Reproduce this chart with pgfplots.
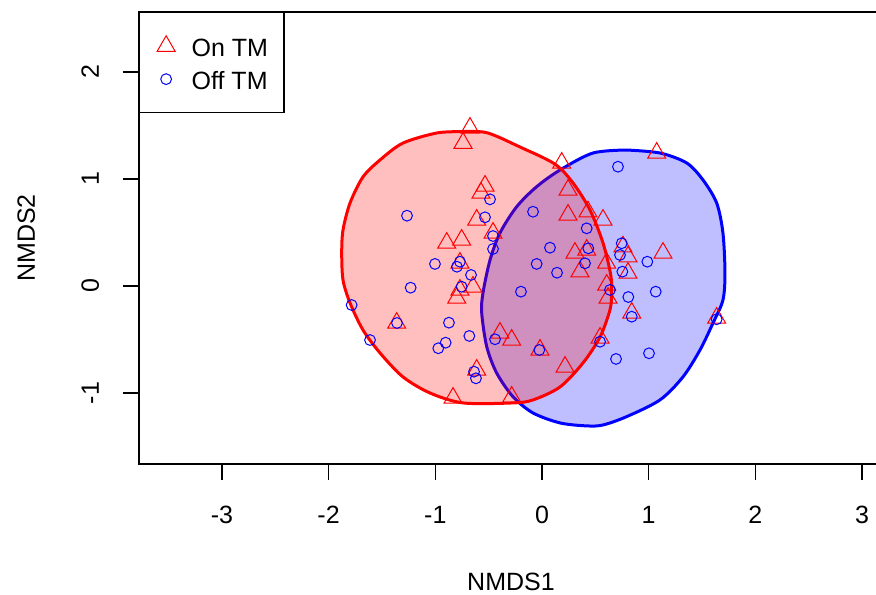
\documentclass[border=0pt]{standalone}
\usepackage{fontspec}
\setmainfont{Liberation Sans}
\usepackage{pgfplots}
\pgfplotsset{compat=1.18}

\definecolor{rred}{RGB}{255,0,0}
\definecolor{rblue}{RGB}{0,0,255}

\pgfplotsset{
  markleg/.style={legend image code/.code={\path (0pt,0pt) (17.5pt,0pt); \draw[##1] plot coordinates {(5pt,0pt)};}},
}

\begin{document}
\fontsize{12.5}{15}\selectfont
\begin{tikzpicture}
\begin{axis}[
  scale only axis,
  width=372pt, height=226pt,
  xmin=-3.777, xmax=3.196, ymin=-1.664, ymax=2.561,
  axis line style={line width=0.65pt},
  tick style={line width=0.65pt, black},
  tick align=outside, major tick length=8pt,
  xtick pos=lower, ytick pos=left,
  xtick={-3,-2,-1,0,1,2,3}, xticklabels={-3,-2,-1,0,1,2,3},
  ytick={-1,0,1,2}, yticklabels={-1,0,1,2},
  xticklabel style={anchor=base, yshift=-21.5pt},
  yticklabel style={xshift=-12pt, rotate=90, anchor=base},
  xlabel={NMDS1}, ylabel={NMDS2},
  every axis x label/.style={at={(axis description cs:0.5,0)}, anchor=base, yshift=-63pt},
  every axis y label/.style={at={(axis description cs:0,0.5)}, xshift=-52pt, rotate=90, anchor=base},
  legend style={at={(rel axis cs:0,1)}, anchor=north west, draw=black, line width=0.65pt,
    fill=white, inner xsep=8pt, inner ysep=11.5pt, row sep=6pt,
    nodes={inner sep=0pt, text height=10.5pt, text depth=0pt},
    font=\fontsize{12.5}{15}\selectfont},
  legend cell align=left,
]
% On TM
\addplot[only marks, mark=triangle, mark size=5.2pt, color=rred, line width=0.5pt, markleg]
coordinates {
(-0.675,1.477) (-0.740,1.336) (-0.534,0.935) (-0.572,0.869) (-0.612,0.617)
(-0.459,0.495) (-0.893,0.402) (-0.753,0.430) (-0.769,0.215) (-0.647,-0.009)
(-0.769,-0.037) (-0.799,-0.112) (-1.362,-0.346) (-0.394,-0.439) (-0.284,-0.505)
(-0.019,-0.598) (0.216,-0.757) (-0.612,-0.785) (-0.834,-1.047) (-0.284,-1.037)
(0.544,-0.486) (0.606,0.009) (0.619,-0.112) (0.841,-0.252) (1.637,-0.299)
(0.185,1.150) (1.075,1.243) (0.244,0.897) (0.244,0.664) (0.431,0.694)
(0.572,0.617) (0.309,0.308) (0.419,0.336) (0.356,0.134) (0.606,0.215)
(0.806,0.274) (0.759,0.367) (0.806,0.121) (1.134,0.308)
};
\addlegendentry{On TM}
% Off TM
\addplot[only marks, mark=o, mark size=2.7pt, color=rblue, line width=0.5pt, markleg]
coordinates {
(-0.487,0.810) (-1.265,0.657) (-0.534,0.642) (-0.459,0.467) (-0.459,0.346)
(-1.003,0.206) (-0.797,0.180) (-0.769,0.227) (-0.665,0.103) (-1.231,-0.016)
(-0.753,-0.007) (-0.197,-0.053) (-0.084,0.694) (0.075,0.358) (-0.050,0.206)
(0.141,0.124) (0.419,0.539) (0.434,0.352) (0.403,0.212) (0.712,1.115)
(0.637,-0.037) (-1.784,-0.178) (-1.612,-0.505) (-0.872,-0.343) (-0.681,-0.467)
(-0.972,-0.582) (-0.903,-0.530) (-0.440,-0.498) (-0.637,-0.801) (-0.619,-0.863)
(-0.025,-0.598) (0.694,-0.682) (0.747,0.399) (0.731,0.290) (0.753,0.134)
(0.987,0.227) (1.066,-0.053) (0.809,-0.103) (0.841,-0.287) (1.637,-0.311)
(1.003,-0.629) (0.544,-0.521) (-1.359,-0.346)
};
\addlegendentry{Off TM}
% ellipse Off TM
\addplot[draw=rblue, line width=1.5pt, fill=rblue, fill opacity=0.25, smooth, forget plot]
coordinates {
(0.794,1.271) (0.478,1.243) (0.169,1.084) (-0.050,0.928) (-0.237,0.741)
(-0.394,0.495) (-0.487,0.243) (-0.553,-0.065) (-0.565,-0.252) (-0.518,-0.567)
(-0.425,-0.813) (-0.272,-1.035) (-0.084,-1.187) (0.169,-1.280) (0.422,-1.308)
(0.572,-1.299) (0.794,-1.221) (1.106,-1.065) (1.321,-0.850) (1.481,-0.598)
(1.603,-0.346) (1.696,-0.131) (1.715,0.121) (1.696,0.495) (1.637,0.776)
(1.509,0.991) (1.356,1.150) (1.106,1.243) (0.794,1.271)
};
% ellipse On TM
\addplot[draw=rred, line width=1.5pt, fill=rred, fill opacity=0.25, smooth, forget plot]
coordinates {
(-0.769,1.442) (-0.987,1.430) (-1.303,1.336) (-1.518,1.178) (-1.678,1.019)
(-1.799,0.776) (-1.865,0.523) (-1.877,0.308) (-1.865,0.056) (-1.799,-0.159)
(-1.678,-0.411) (-1.518,-0.626) (-1.303,-0.850) (-1.050,-1.000) (-0.740,-1.093)
(-0.272,-1.093) (-0.084,-1.065) (0.169,-0.944) (0.384,-0.720) (0.544,-0.477)
(0.637,-0.224) (0.652,-0.080) (0.645,0.100) (0.572,0.402) (0.450,0.710)
(0.291,0.963) (0.120,1.140) (-0.206,1.299) (-0.518,1.433) (-0.769,1.442)
};
\end{axis}
\pgfresetboundingbox
\path[use as bounding box] ([xshift=-69.5pt, yshift=-65pt]current axis.south west)
  rectangle ([xshift=368.5pt, yshift=6pt]current axis.north west);
\end{tikzpicture}
\end{document}
